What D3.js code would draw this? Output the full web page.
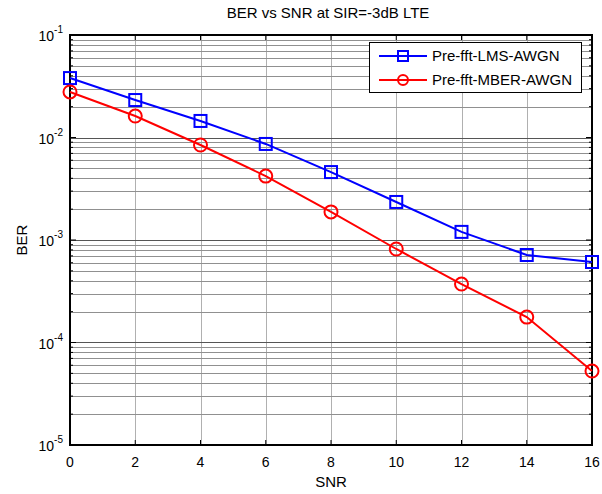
<!DOCTYPE html>
<html><head><meta charset="utf-8">
<script src="https://cdn.jsdelivr.net/npm/d3@7"></script>
<style>body{margin:0;background:#fff}svg{display:block}text{font-family:"Liberation Sans",Arial,sans-serif}</style>
</head><body>
<svg id="c" width="602" height="494"></svg>
<script>
const snr = [0, 2, 4, 6, 8, 10, 12, 14, 16];
const berLMS = [0.038, 0.0232, 0.0145, 0.00865, 0.0046, 0.00235, 0.0012, 0.000714, 0.00061];
const berMBER = [0.0278, 0.0162, 0.00845, 0.0042, 0.00188, 0.000817, 0.000372, 0.000177, 0.0000527];
const xTicks = [0, 2, 4, 6, 8, 10, 12, 14, 16];
const yDecades = [-5, -4, -3, -2, -1];
const seriesNames = ["Pre-fft-LMS-AWGN", "Pre-fft-MBER-AWGN"];
const title = "BER vs SNR at SIR=-3dB LTE";

const L = 70, R = 592, T = 35, B = 445;
const svg = d3.select("#c");
const x = d3.scaleLinear().domain([0, 16]).range([L, R]);
const y = d3.scaleLog().domain([1e-5, 1e-1]).range([B, T]);

const minor = [];
for (let d = -5; d < -1; d++) for (let m = 2; m <= 9; m++) minor.push(m * Math.pow(10, d));
const major = yDecades.map(d => Math.pow(10, d));

const g = svg.append("g");
g.selectAll(".vg").data(xTicks).enter().append("line")
  .attr("x1", d => Math.round(x(d)) + 0.5).attr("x2", d => Math.round(x(d)) + 0.5).attr("y1", T).attr("y2", B)
  .attr("stroke", "#b0b0b0").attr("stroke-width", 1);
g.selectAll(".hm").data(minor).enter().append("line")
  .attr("x1", L).attr("x2", R).attr("y1", d => Math.round(y(d)) + 0.5).attr("y2", d => Math.round(y(d)) + 0.5)
  .attr("stroke", "#909090").attr("stroke-width", 1);
g.selectAll(".hM").data(major).enter().append("line")
  .attr("x1", L).attr("x2", R).attr("y1", d => Math.round(y(d)) + 0.5).attr("y2", d => Math.round(y(d)) + 0.5)
  .attr("stroke", "#555").attr("stroke-width", 1);

const tk = svg.append("g").attr("stroke", "#000").attr("stroke-width", 1);
xTicks.forEach(v => {
  tk.append("line").attr("x1", x(v)).attr("x2", x(v)).attr("y1", B).attr("y2", B - 5);
  tk.append("line").attr("x1", x(v)).attr("x2", x(v)).attr("y1", T).attr("y2", T + 5);
});
major.forEach(v => {
  tk.append("line").attr("x1", L).attr("x2", L + 6).attr("y1", y(v)).attr("y2", y(v));
  tk.append("line").attr("x1", R).attr("x2", R - 6).attr("y1", y(v)).attr("y2", y(v));
});
minor.forEach(v => {
  tk.append("line").attr("x1", L).attr("x2", L + 3).attr("y1", y(v)).attr("y2", y(v));
  tk.append("line").attr("x1", R).attr("x2", R - 3).attr("y1", y(v)).attr("y2", y(v));
});

svg.append("rect").attr("x", L).attr("y", T).attr("width", R - L).attr("height", B - T)
  .attr("fill", "none").attr("stroke", "#000").attr("stroke-width", 2);

svg.selectAll(".xl").data(xTicks).enter().append("text")
  .attr("x", d => x(d)).attr("y", B + 22).attr("text-anchor", "middle")
  .attr("font-size", 14).text(d => d);
yDecades.forEach(d => {
  const t = svg.append("text").attr("x", L - 7).attr("y", y(Math.pow(10, d)) + 6)
    .attr("text-anchor", "end").attr("font-size", 14);
  t.append("tspan").text("10");
  t.append("tspan").attr("dy", -8).attr("font-size", 10).text("-" + (-d));
});

svg.append("text").attr("x", (L + R) / 2).attr("y", 487).attr("text-anchor", "middle").attr("font-size", 15).text("SNR");
svg.append("text").attr("transform", `translate(27,${(T + B) / 2}) rotate(-90)`).attr("text-anchor", "middle").attr("font-size", 15).text("BER");
svg.append("text").attr("x", (L + R) / 2 - 3).attr("y", 18).attr("text-anchor", "middle").attr("font-size", 15).text(title);

const line = d3.line().x((d, i) => x(snr[i])).y(d => y(d));
const colors = ["#0000ff", "#ff0000"];
const data = [berLMS, berMBER];

data.forEach((s, k) => {
  svg.append("path").datum(s).attr("d", line).attr("fill", "none")
    .attr("stroke", colors[k]).attr("stroke-width", 2);
});
svg.selectAll(".sq").data(berLMS).enter().append("rect")
  .attr("x", (d, i) => x(snr[i]) - 6).attr("y", d => y(d) - 6).attr("width", 12).attr("height", 12)
  .attr("fill", "none").attr("stroke", colors[0]).attr("stroke-width", 2);
svg.selectAll(".ci").data(berMBER).enter().append("circle")
  .attr("cx", (d, i) => x(snr[i])).attr("cy", d => y(d)).attr("r", 6.5)
  .attr("fill", "none").attr("stroke", colors[1]).attr("stroke-width", 2);

const lg = svg.append("g");
lg.append("rect").attr("x", 369.5).attr("y", 42.5).attr("width", 212).attr("height", 50)
  .attr("fill", "#fff").attr("stroke", "#000").attr("stroke-width", 1);
seriesNames.forEach((n, k) => {
  const yy = 56 + k * 24;
  lg.append("line").attr("x1", 379).attr("x2", 427).attr("y1", yy).attr("y2", yy)
    .attr("stroke", colors[k]).attr("stroke-width", 2);
  if (k === 0) lg.append("rect").attr("x", 403 - 5).attr("y", yy - 5).attr("width", 10).attr("height", 10)
    .attr("fill", "none").attr("stroke", colors[k]).attr("stroke-width", 2);
  else lg.append("circle").attr("cx", 403).attr("cy", yy).attr("r", 5)
    .attr("fill", "none").attr("stroke", colors[k]).attr("stroke-width", 2);
  lg.append("text").attr("x", 432).attr("y", yy + 5).attr("font-size", 15).text(n);
});
</script>
</body></html>
